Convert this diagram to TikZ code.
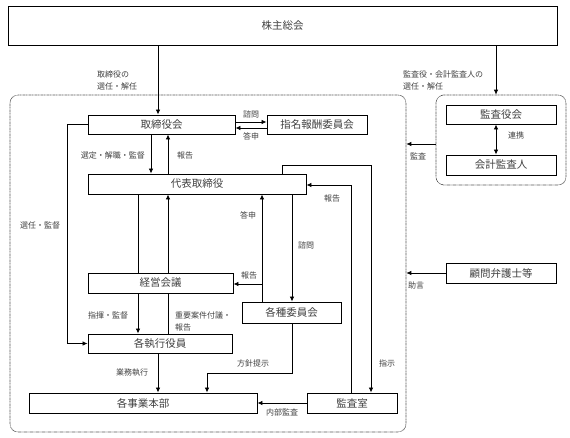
\documentclass[tikz,border=0pt]{standalone}
\usepackage{fontspec}
\setmainfont{Noto Sans CJK JP}
\usetikzlibrary{arrows.meta}

\tikzset{
	box/.style={draw, line width=0.9pt, inner sep=0pt, text=black!75,
		font=\fontsize{10.5}{12}\selectfont},
	lbl/.style={inner sep=0pt, align=left, text=black!75,
		font=\fontsize{8}{12}\selectfont},
	area/.style={draw, line width=0.6pt, dash pattern=on 0.5pt off 0.7pt,
		rounded corners=8pt, inner sep=0pt},
	conn/.style={line width=0.8pt, -{Latex[length=5pt,width=4.5pt]}},
	ln/.style={line width=0.8pt}
}

\begin{document}
\begin{tikzpicture}[x=1pt, y=-1pt]
\useasboundingbox (0,0) rectangle (570,438);

%% Bereiche %%
\node[area, minimum width=396pt, minimum height=337pt] (naibu) at (208,263.5) {};
\node[area, minimum width=130pt, minimum height=90pt] (kansagawa) at (501,140) {};

%% Kasten %%
\node[box, minimum width=549pt, minimum height=39pt] (soukai) at (282.5,25.5) {株主総会};
\node[box, minimum width=147pt, minimum height=19pt] (torikai) at (161.5,124.5) {取締役会};
\node[box, minimum width=100pt, minimum height=19pt] (shimei) at (317,124.5) {指名報酬委員会};
\node[box, minimum width=218pt, minimum height=20pt] (daihyo) at (197,184) {代表取締役};
\node[box, minimum width=145pt, minimum height=20pt] (keiei) at (160.5,283) {経営会議};
\node[box, minimum width=99pt, minimum height=21pt] (iinkai) at (291.5,312.5) {各種委員会};
\node[box, minimum width=144pt, minimum height=19pt] (shikko) at (160,343.5) {各執行役員};
\node[box, minimum width=228pt, minimum height=20pt] (jigyo) at (143,403) {各事業本部};
\node[box, minimum width=90pt, minimum height=20pt] (kansashitsu) at (352,403) {監査室};
\node[box, minimum width=110pt, minimum height=19pt] (kansayaku) at (501,114.5) {監査役会};
\node[box, minimum width=110pt, minimum height=20pt] (kaikei) at (501,165) {会計監査人};
\node[box, minimum width=110pt, minimum height=20pt] (komon) at (501,273) {顧問弁護士等};

%% Verbindungen %%
\draw[conn] (soukai.south -| 158,0) -- (torikai.north -| 158,0);
\node[lbl, anchor=west] (l-senin1) at (97,80) {取締役の\\選任・解任};
\draw[conn] (soukai.south -| 496,0) -- (kansagawa.north -| 496,0);
\node[lbl, anchor=west] (l-senin2) at (403,80) {監査役・会計監査人の\\選任・解任};

\draw[conn] (torikai.east |- 0,122) -- (shimei.west |- 0,122)
	node[lbl, midway, above=3pt] (l-shimon1) {諮問};
\draw[conn] (shimei.west |- 0,128) -- (torikai.east |- 0,128)
	node[lbl, midway, below=4pt] (l-toushin1) {答申};

\draw[conn] (torikai.south -| 151,0) -- (daihyo.north -| 151,0);
\node[lbl, anchor=east] (l-sentei) at (145,155) {選定・解職・監督};
\draw[conn] (daihyo.north -| 168,0) -- (torikai.south -| 168,0);
\node[lbl, anchor=west] (l-houkoku1) at (177,155) {報告};

\draw[conn] (torikai.west) -- ++(-20,0) |- (shikko.west);
\node[lbl] (l-sennin) at (40,225) {選任・監督};

\draw[ln] (daihyo.south -| 138,0) -- (keiei.north -| 138,0);
\draw[conn] (keiei.north -| 168,0) -- (daihyo.south -| 168,0);

\coordinate (bunki) at (262,284);
\draw[conn] (iinkai.north -| 262,0) -- (daihyo.south -| 262,0);
\draw[conn] (bunki) -- (keiei.east |- bunki);
\node[lbl] (l-toushin2) at (248,215) {答申};
\node[lbl] (l-houkoku2) at (249,275) {報告};
\draw[conn] (daihyo.south -| 292,0) -- (iinkai.north -| 292,0);
\node[lbl] (l-shimon2) at (306,245) {諮問};

\draw[conn] (daihyo.north -| 282,0) |- (371,165) -- (kansashitsu.north -| 371,0);
\node[lbl] (l-shiji) at (387,363) {指示};
\draw[conn] (kansashitsu.north -| 351,0) |- (daihyo.east |- 0,185);
\node[lbl] (l-houkoku3) at (332,198) {報告};

\draw[conn] (keiei.south -| 138,0) -- (shikko.north -| 138,0);
\node[lbl] (l-shiki) at (108,315) {指揮・監督};
\draw[ln] (shikko.north -| 168,0) -- (keiei.south -| 168,0);
\node[lbl, anchor=west] (l-juyou) at (175,321) {重要案件付議・\\報告};

\draw[conn] (shikko.south -| 158,0) -- (jigyo.north -| 158,0);
\node[lbl] (l-gyomu) at (132,373) {業務執行};
\draw[conn] (iinkai.south -| 292,0) |- (207,373) -- (jigyo.north -| 207,0);
\node[lbl] (l-houshin) at (253,363) {方針提示};
\draw[conn] (kansashitsu.west) -- (jigyo.east);
\node[lbl] (l-naibu) at (282,412) {内部監査};

\draw[conn] (kansagawa.west |- 0,144) -- (naibu.east |- 0,144);
\node[lbl] (l-kansa) at (418,156) {監査};
\draw[line width=0.8pt, {Latex[length=5pt,width=4.5pt]}-{Latex[length=5pt,width=4.5pt]}]
	(kansayaku.south -| 496,0) -- (kaikei.north -| 496,0);
\node[lbl] (l-renkei) at (516,135) {連携};
\draw[conn] (komon.west) -- (naibu.east |- komon.west);
\node[lbl] (l-jogen) at (416,285) {助言};
\end{tikzpicture}
\end{document}
